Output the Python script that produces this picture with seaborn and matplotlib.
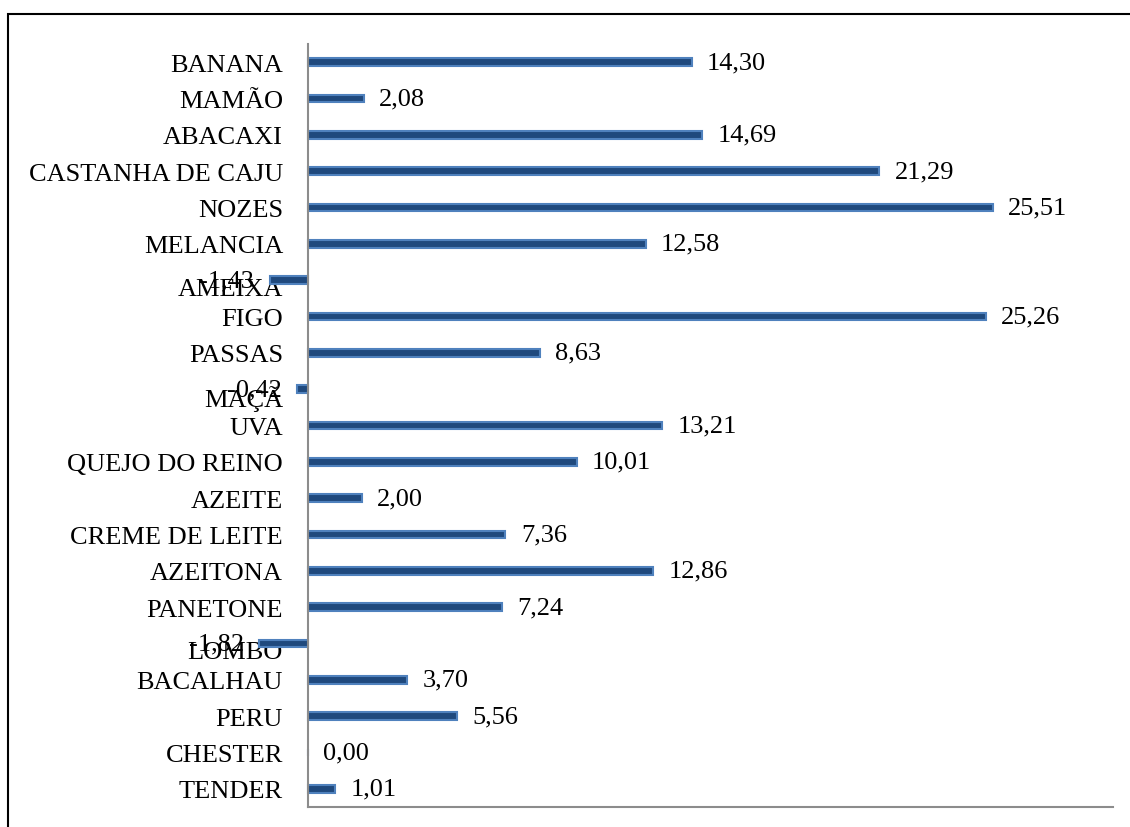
import matplotlib
matplotlib.use("Agg")
import matplotlib.pyplot as plt
import matplotlib.transforms as mtransforms
from matplotlib.patches import Rectangle
import seaborn as sns
import pandas as pd

produtos = ["BANANA", "MAMÃO", "ABACAXI", "CASTANHA DE CAJU", "NOZES", "MELANCIA",
            "AMEIXA", "FIGO", "PASSAS", "MAÇÃ", "UVA", "QUEJO DO REINO", "AZEITE",
            "CREME DE LEITE", "AZEITONA", "PANETONE", "LOMBO", "BACALHAU", "PERU",
            "CHESTER", "TENDER"]
variacao = [14.30, 2.08, 14.69, 21.29, 25.51, 12.58, -1.43, 25.26, 8.63, -0.42,
            13.21, 10.01, 2.00, 7.36, 12.86, 7.24, -1.82, 3.70, 5.56, 0.00, 1.01]

df = pd.DataFrame({"produto": produtos, "variacao": variacao})

sns.set_theme(style="white")
plt.rcParams["font.family"] = ["Liberation Serif", "DejaVu Serif"]

FS = 19

fig = plt.figure(figsize=(11.3, 8.28), dpi=100)
ax = fig.add_axes([308 / 1130, 1 - 808 / 828, (1113 - 308) / 1130, (808 - 45) / 828])

sns.barplot(data=df, x="variacao", y="produto", orient="h", order=produtos,
            color="#1F497D", width=0.22, edgecolor="#4F81BD", linewidth=1.5,
            saturation=1, ax=ax)
for p in ax.patches:
    p.set_clip_on(False)

ax.set_xlim(0, 30)
ax.set_ylim(len(produtos) - 0.5, -0.5)
ax.set_xlabel("")
ax.set_ylabel("")
ax.set_xticks([])
ax.tick_params(axis="y", length=0, pad=18, labelsize=FS, labelcolor="black")

for s in ["top", "right"]:
    ax.spines[s].set_visible(False)
for s in ["left", "bottom"]:
    ax.spines[s].set_color("#8C8C8C")
    ax.spines[s].set_linewidth(1.5)

# value labels, written with a decimal comma
for i, v in enumerate(variacao):
    txt = f"{v:.2f}".replace(".", ",")
    if v < 0:
        ax.annotate(txt, (v, i), xytext=(-11, 0), textcoords="offset points",
                    ha="right", va="center", fontsize=FS, color="black",
                    annotation_clip=False)
    else:
        ax.annotate(txt, (v, i), xytext=(11, 0), textcoords="offset points",
                    ha="left", va="center", fontsize=FS, color="black",
                    annotation_clip=False)

# category names of negative rows sit slightly lower
shift = mtransforms.ScaledTranslation(0, -6 / 100, fig.dpi_scale_trans)
for lab, v in zip(ax.get_yticklabels(), variacao):
    if v < 0:
        lab.set_transform(lab.get_transform() + shift)

# outer chart frame
fig.patches.append(Rectangle((8 / 1130, -0.1), 1.2, 1 - 15 / 828 + 0.1,
                             transform=fig.transFigure, fill=False,
                             edgecolor="black", linewidth=1.5))

fig.savefig("out.png", dpi=100)
